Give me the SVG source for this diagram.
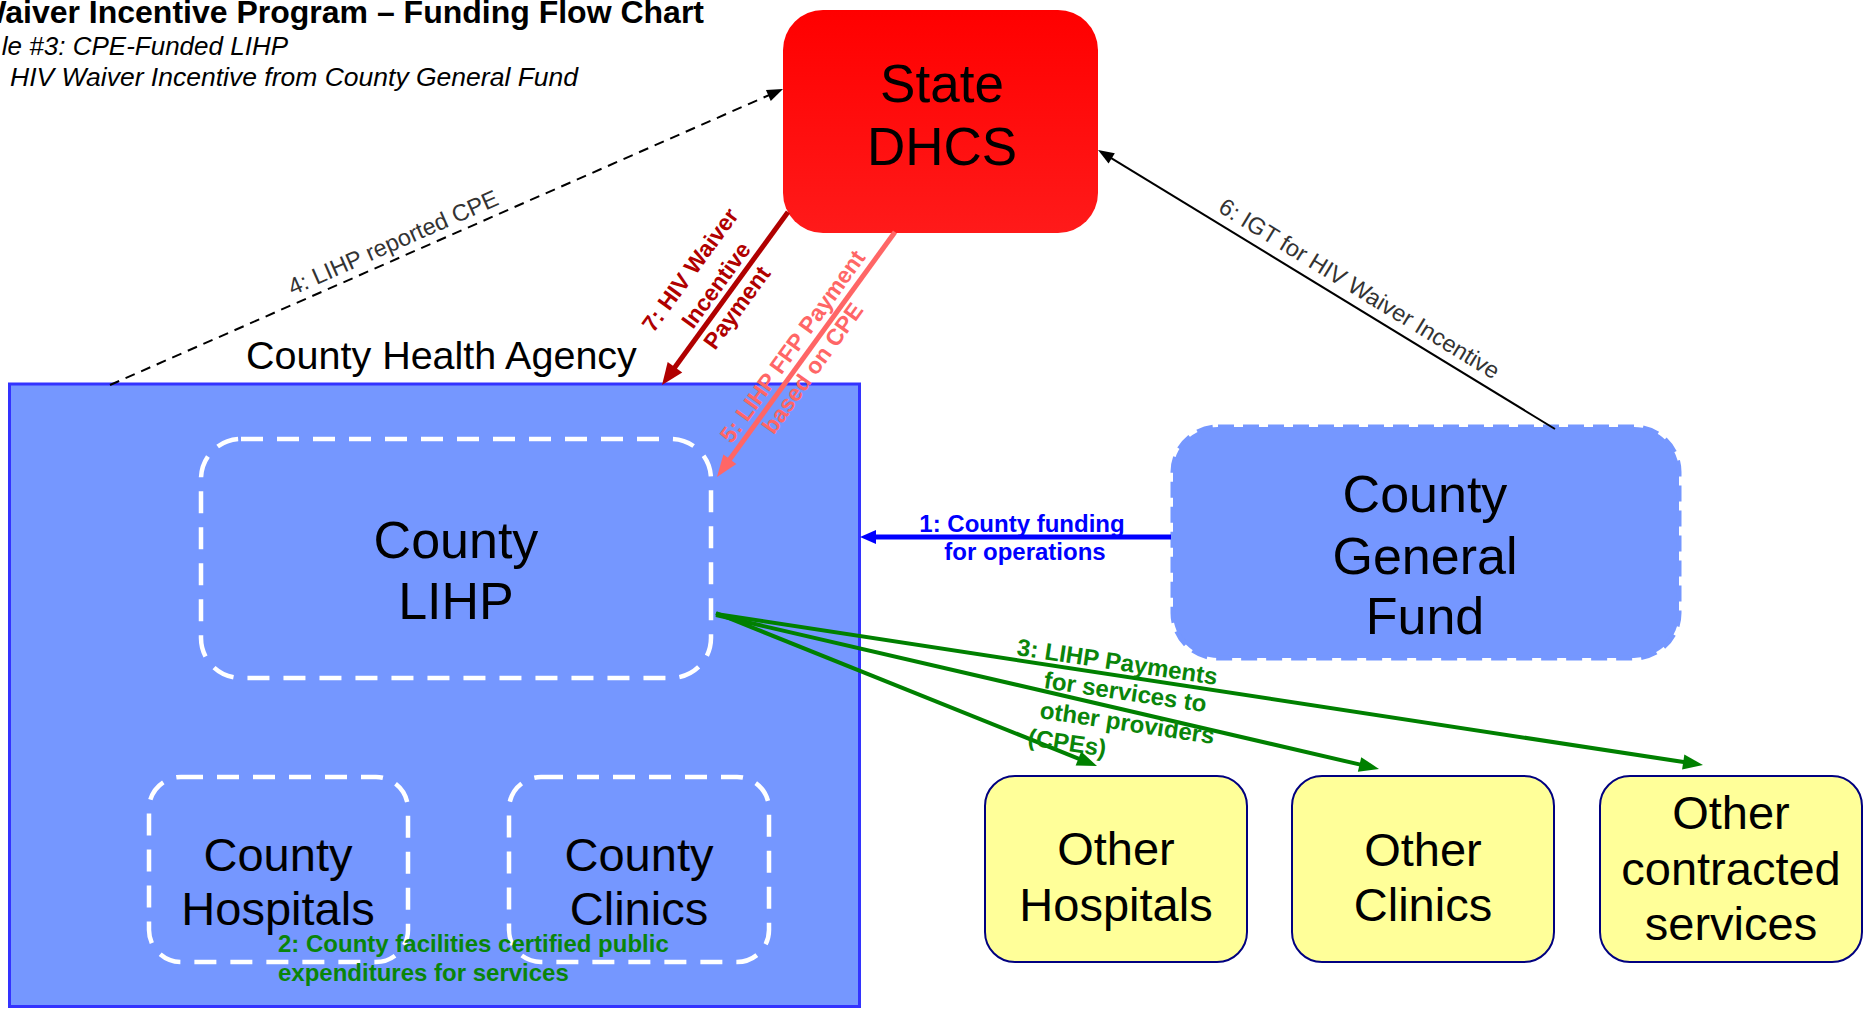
<svg xmlns="http://www.w3.org/2000/svg" width="1869" height="1010" viewBox="0 0 1869 1010">
<style>
text{font-family:"Liberation Sans",Arial,sans-serif}
.node{font-size:52px;fill:#000;text-anchor:middle}
.sm{font-size:47px;fill:#000;text-anchor:middle}
.lbl{font-size:23.5px;fill:#333}
.b{font-weight:bold;font-size:24px}
.grn{fill:#0a850a}
.wdash{fill:none;stroke:#fff;stroke-width:4.5;stroke-dasharray:22 14}
.other{fill:#ffff99;stroke:#000080;stroke-width:2}
</style>
<defs>
<linearGradient id="redg" x1="0" y1="0" x2="0" y2="1"><stop offset="0" stop-color="#ff0000"/><stop offset="1" stop-color="#ff1a1a"/></linearGradient>
<marker id="ahBlack" markerUnits="userSpaceOnUse" markerWidth="16" markerHeight="12" refX="2" refY="6" orient="auto" overflow="visible"><path d="M0,0 L16,6 L0,12 z" fill="#000"/></marker>
<marker id="ahBlue" markerUnits="userSpaceOnUse" markerWidth="16" markerHeight="14" refX="2" refY="7" orient="auto" overflow="visible"><path d="M0,0 L16,7 L0,14 z" fill="#0000ff"/></marker>
<marker id="ahDark" markerUnits="userSpaceOnUse" markerWidth="22" markerHeight="18" refX="2" refY="9" orient="auto" overflow="visible"><path d="M0,0 L22,9 L0,18 z" fill="#b00000"/></marker>
<marker id="ahPink" markerUnits="userSpaceOnUse" markerWidth="22" markerHeight="16" refX="2" refY="8" orient="auto" overflow="visible"><path d="M0,0 L22,8 L0,16 z" fill="#ff6666"/></marker>
<marker id="ahGreen" markerUnits="userSpaceOnUse" markerWidth="20" markerHeight="15" refX="2" refY="7.5" orient="auto" overflow="visible"><path d="M0,0 L20,7.5 L0,15 z" fill="#008000"/></marker>
</defs>
<rect width="1869" height="1010" fill="#fff"/>
<g id="title">
<text x="704" y="23" font-size="32" font-weight="bold" text-anchor="end" fill="#000">Waiver Incentive Program – Funding Flow Chart</text>
<text x="288" y="55" font-size="26" font-style="italic" text-anchor="end" fill="#000">le #3: CPE-Funded LIHP</text>
<text x="10" y="85.5" font-size="26.5" font-style="italic" fill="#000">HIV Waiver Incentive from County General Fund</text>
</g>
<g id="county-health-agency">
<rect x="9.5" y="384" width="850" height="622.5" fill="#7597ff" stroke="#3333ff" stroke-width="3"/>
<text x="246" y="369" font-size="39.5" fill="#000">County Health Agency</text>
</g>
<g id="county-lihp">
<rect class="wdash" x="201" y="439" width="510" height="239" rx="40"/>
<text class="node" x="456" y="558">County</text>
<text class="node" x="456" y="619">LIHP</text>
</g>
<g id="county-hospitals">
<rect class="wdash" x="149" y="777" width="259" height="185" rx="32"/>
<text class="sm" x="278" y="871">County</text>
<text class="sm" x="278" y="925">Hospitals</text>
</g>
<g id="county-clinics">
<rect class="wdash" x="509" y="777" width="260" height="185" rx="32"/>
<text class="sm" x="639" y="871">County</text>
<text class="sm" x="639" y="925">Clinics</text>
</g>
<g id="county-general-fund">
<rect x="1173" y="427" width="506" height="231" rx="45" fill="#7597ff" stroke="#7597ff" stroke-width="5" stroke-dasharray="16 9"/>
<text class="node" x="1425" y="512">County</text>
<text class="node" x="1425" y="574">General</text>
<text class="node" x="1425" y="634">Fund</text>
</g>
<g id="other-hospitals">
<rect class="other" x="985" y="776" width="262" height="186" rx="30"/>
<text class="sm" x="1116" y="865">Other</text>
<text class="sm" x="1116" y="921">Hospitals</text>
</g>
<g id="other-clinics">
<rect class="other" x="1292" y="776" width="262" height="186" rx="30"/>
<text class="sm" x="1423" y="866">Other</text>
<text class="sm" x="1423" y="921">Clinics</text>
</g>
<g id="other-contracted-services">
<rect class="other" x="1600" y="776" width="262" height="186" rx="30"/>
<text class="sm" x="1731" y="829">Other</text>
<text class="sm" x="1731" y="885">contracted</text>
<text class="sm" x="1731" y="940">services</text>
</g>
<g id="state-dhcs">
<rect x="783" y="10" width="315" height="223" rx="40" fill="url(#redg)"/>
<text x="942" y="102" font-size="53" text-anchor="middle" fill="#000">State</text>
<text x="942" y="165" font-size="53" text-anchor="middle" fill="#000">DHCS</text>
</g>
<g id="connectors">
<line x1="1171" y1="537" x2="874" y2="537" stroke="#0000ff" stroke-width="5" marker-end="url(#ahBlue)"/>
<text class="b" x="1022" y="532" text-anchor="middle" fill="#0000ff">1: County funding</text>
<text class="b" x="1025" y="560" text-anchor="middle" fill="#0000ff">for operations</text>
<text class="b grn" x="278" y="952">2: County facilities certified public</text>
<text class="b grn" x="278" y="981">expenditures for services</text>
<line x1="716" y1="613" x2="1080.3" y2="759.3" stroke="#008000" stroke-width="4" marker-end="url(#ahGreen)"/>
<line x1="716" y1="615" x2="1361.5" y2="764.9" stroke="#008000" stroke-width="4" marker-end="url(#ahGreen)"/>
<line x1="716" y1="614" x2="1685.2" y2="762.3" stroke="#008000" stroke-width="4" marker-end="url(#ahGreen)"/>
<text class="b grn" transform="translate(1016,655) rotate(8.5)">3: LIHP Payments</text>
<text class="b grn" transform="translate(1043,688) rotate(8.5)">for services to</text>
<text class="b grn" transform="translate(1039,718) rotate(8.5)">other providers</text>
<text class="b grn" transform="translate(1027,745) rotate(8.5)">(CPEs)</text>
<line x1="110" y1="385" x2="770.2" y2="94.6" stroke="#000" stroke-width="2" stroke-dasharray="10 7" marker-end="url(#ahBlack)"/>
<text class="lbl" text-anchor="middle" transform="translate(400,258) rotate(-23.74)" x="0" y="-9" font-size="24.5">4: LIHP reported CPE</text>
<line x1="895" y1="232" x2="728.7" y2="460.8" stroke="#ff6666" stroke-width="5" marker-end="url(#ahPink)"/>
<g transform="translate(802,357) rotate(-54.2)" fill="#ff6666" font-weight="bold" font-size="23" text-anchor="middle">
<text x="3" y="-6">5: LIHP FFP Payment</text>
<text x="-3" y="23">based on CPE</text>
</g>
<line x1="1555" y1="429" x2="1110" y2="157.3" stroke="#000" stroke-width="2" marker-end="url(#ahBlack)"/>
<text class="lbl" text-anchor="middle" transform="translate(1350,304) rotate(31.4)" x="0" y="-10">6: IGT for HIV Waiver Incentive</text>
<line x1="788" y1="212" x2="673.8" y2="368.8" stroke="#b00000" stroke-width="5" marker-end="url(#ahDark)"/>
<g transform="translate(716,285) rotate(-53.9)" fill="#b00000" font-weight="bold" font-size="23" text-anchor="middle">
<text x="-3" y="-22">7: HIV Waiver</text>
<text x="0" y="8">Incentive</text>
<text x="-6" y="38">Payment</text>
</g>
</g>
</svg>
